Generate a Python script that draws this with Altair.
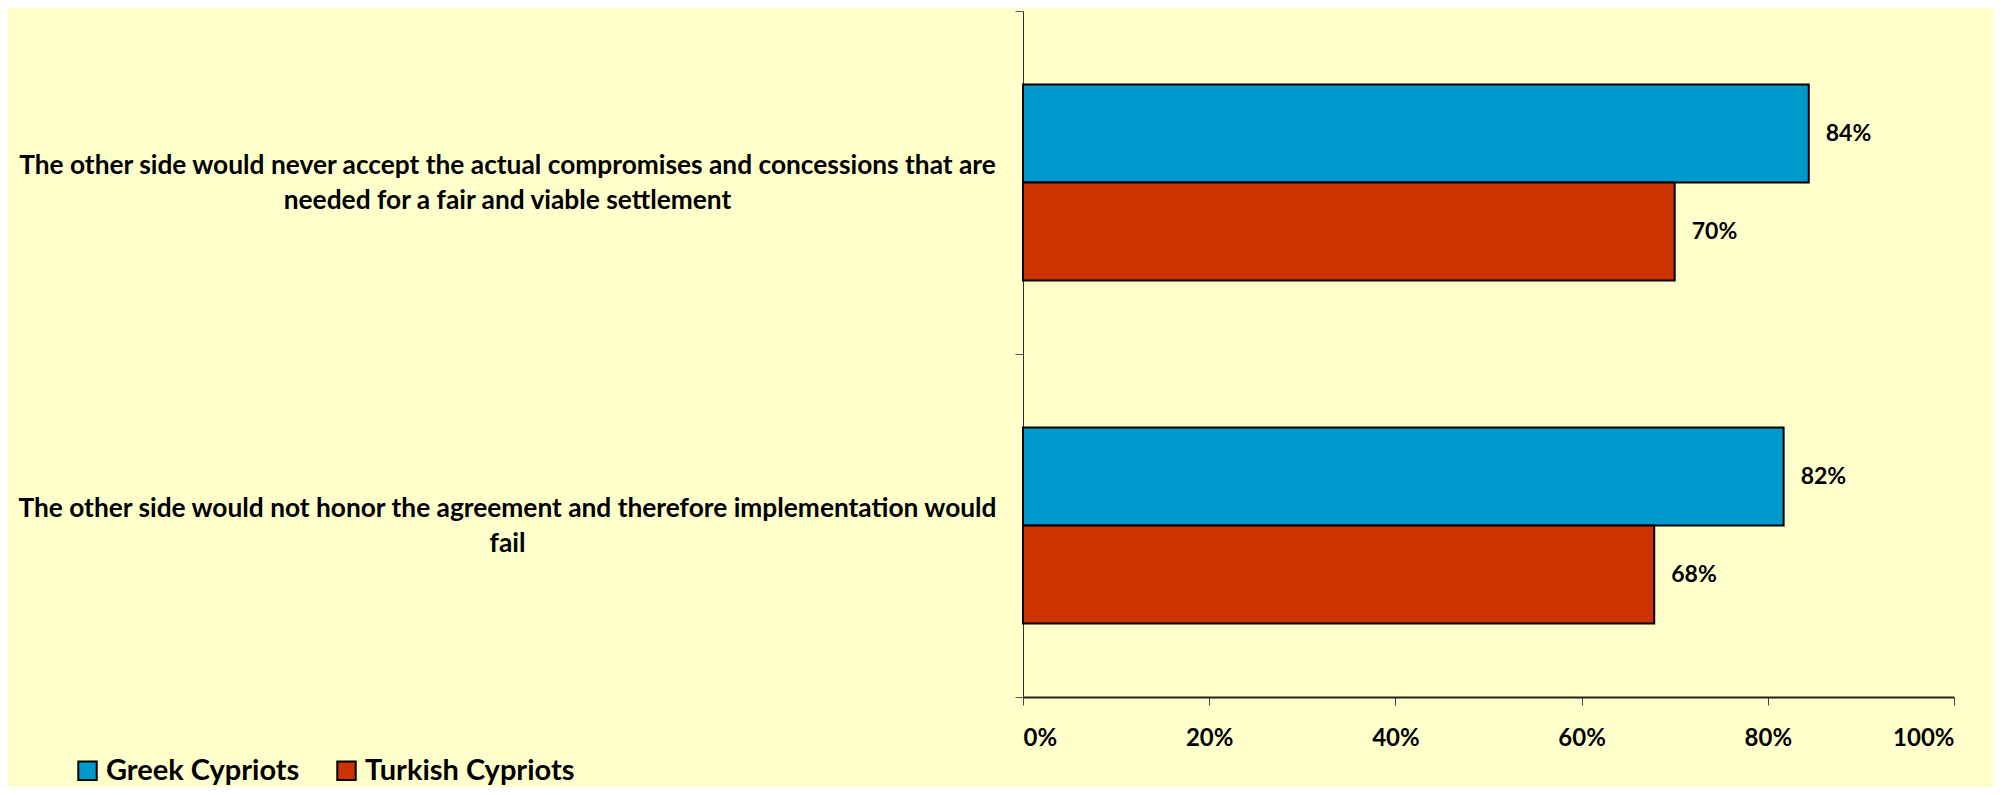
import altair as alt
import pandas as pd

categories = [
    "The other side would never accept the actual compromises and concessions that are\nneeded for a fair and viable settlement",
    "The other side would not honor the agreement and therefore implementation would\nfail",
]
series = ["Greek Cypriots", "Turkish Cypriots"]
greek = [84.4, 81.7]
turkish = [70.0, 67.8]
colors = ["#0099CC", "#CC3300"]
x_ticks = [0, 20, 40, 60, 80, 100]

rows = []
for i, c in enumerate(categories):
    rows.append({"cat": c, "series": series[0], "value": greek[i]})
    rows.append({"cat": c, "series": series[1], "value": turkish[i]})
df = pd.DataFrame(rows)

FONT = "Lato"

y_enc = alt.Y(
    "cat:N",
    sort=categories,
    scale=alt.Scale(paddingInner=0, paddingOuter=0),
    axis=alt.Axis(
        title=None,
        tickBand="extent",
        labelExpr="split(datum.label, '\\n')",
        labelAlign="center",
        labelBaseline="middle",
        labelPadding=508,
        labelOffset=-17,
        labelLimit=0,
        labelLineHeight=35,
        labelFont=FONT,
        labelFontSize=26.3,
        labelFontWeight="bold",
        labelColor="black",
        tickSize=8,
        tickColor="#555555",
        domainColor="#333333",
        domainWidth=1,
    ),
)
yoff = alt.YOffset("series:N", sort=series, scale=alt.Scale(paddingOuter=0.75, paddingInner=0))
x_enc = alt.X(
    "value:Q",
    scale=alt.Scale(domain=[0, 100], nice=False),
    axis=alt.Axis(
        title=None,
        values=x_ticks,
        labelExpr="datum.value + '%'",
        labelFont=FONT,
        labelFontSize=24,
        labelFontWeight="bold",
        labelColor="black",
        labelPadding=21,
        tickSize=8,
        tickColor="#444444",
        domainColor="#222222",
        domainWidth=2,
        grid=False,
    ),
)

bars = alt.Chart(df).mark_bar(stroke="black", strokeWidth=2).encode(
    y=y_enc,
    yOffset=yoff,
    x=x_enc,
    color=alt.Color(
        "series:N",
        sort=series,
        scale=alt.Scale(domain=series, range=colors),
        legend=alt.Legend(
            title=None,
            orient="none",
            legendX=-950,
            legendY=745,
            direction="horizontal",
            symbolType="square",
            symbolSize=340,
            symbolStrokeColor="black",
            symbolStrokeWidth=2,
            labelFont=FONT,
            labelFontSize=29,
            labelFontWeight="bold",
            labelColor="black",
            labelOffset=4,
            columnPadding=32,
            labelLimit=0,
        ),
    ),
)

labels = alt.Chart(df).transform_calculate(
    lbl="format(datum.value, '.0f') + '%'"
).mark_text(
    align="left", baseline="middle", dx=17, font=FONT, fontSize=23, fontWeight="bold", color="black"
).encode(
    y=alt.Y("cat:N", sort=categories),
    yOffset=alt.YOffset("series:N", sort=series),
    x=alt.X("value:Q"),
    text="lbl:N",
)

chart = (
    alt.layer(bars, labels)
    .properties(
        width=931,
        height=686,
        background="#FFFFCC",
        padding={"left": 1015, "top": 3, "right": 40, "bottom": 90},
        autosize=alt.AutoSizeParams(type="none"),
    )
    .configure_view(stroke=None)
)

chart.save("out.html", embed_options={"renderer": "svg", "actions": False})
